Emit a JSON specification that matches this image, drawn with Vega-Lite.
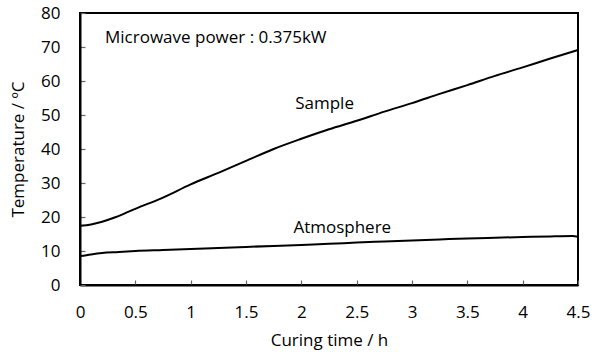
{
  "$schema": "https://vega.github.io/schema/vega-lite/v6.json",
  "width": 498,
  "height": 272,
  "autosize": "none",
  "padding": {"left": 80, "top": 13, "right": 23, "bottom": 71},
  "background": "white",
  "config": {
    "font": "Open Sans",
    "view": {"stroke": "black", "strokeWidth": 2},
    "axis": {
      "grid": false,
      "zindex": 1,
      "domainColor": "black",
      "domainWidth": 2,
      "tickColor": "#666",
      "tickSize": -5,
      "tickWidth": 1.2,
      "labelColor": "black",
      "labelFontSize": 17,
      "labelOverlap": false,
      "labelBound": false,
      "labelFlush": false,
      "titleColor": "black",
      "titleFontSize": 17,
      "titleFontWeight": "normal"
    }
  },
  "datasets": {
    "curves": [
      {"t": 0, "v": 17.4, "s": "Sample"},
      {"t": 0.1, "v": 17.8, "s": "Sample"},
      {"t": 0.2, "v": 18.6, "s": "Sample"},
      {"t": 0.3, "v": 19.7, "s": "Sample"},
      {"t": 0.4, "v": 21.0, "s": "Sample"},
      {"t": 0.5, "v": 22.4, "s": "Sample"},
      {"t": 0.75, "v": 25.7, "s": "Sample"},
      {"t": 1.0, "v": 29.6, "s": "Sample"},
      {"t": 1.25, "v": 33.0, "s": "Sample"},
      {"t": 1.5, "v": 36.5, "s": "Sample"},
      {"t": 1.75, "v": 40.0, "s": "Sample"},
      {"t": 2.0, "v": 43.0, "s": "Sample"},
      {"t": 2.25, "v": 45.8, "s": "Sample"},
      {"t": 2.5, "v": 48.3, "s": "Sample"},
      {"t": 2.75, "v": 51.0, "s": "Sample"},
      {"t": 3.0, "v": 53.5, "s": "Sample"},
      {"t": 3.25, "v": 56.2, "s": "Sample"},
      {"t": 3.5, "v": 58.8, "s": "Sample"},
      {"t": 3.75, "v": 61.5, "s": "Sample"},
      {"t": 4.0, "v": 64.0, "s": "Sample"},
      {"t": 4.25, "v": 66.6, "s": "Sample"},
      {"t": 4.5, "v": 69.1, "s": "Sample"},
      {"t": 0, "v": 8.5, "s": "Atmosphere"},
      {"t": 0.1, "v": 9.0, "s": "Atmosphere"},
      {"t": 0.2, "v": 9.4, "s": "Atmosphere"},
      {"t": 0.35, "v": 9.7, "s": "Atmosphere"},
      {"t": 0.5, "v": 10.0, "s": "Atmosphere"},
      {"t": 0.75, "v": 10.3, "s": "Atmosphere"},
      {"t": 1.0, "v": 10.6, "s": "Atmosphere"},
      {"t": 1.25, "v": 10.9, "s": "Atmosphere"},
      {"t": 1.5, "v": 11.2, "s": "Atmosphere"},
      {"t": 1.75, "v": 11.5, "s": "Atmosphere"},
      {"t": 2.0, "v": 11.8, "s": "Atmosphere"},
      {"t": 2.25, "v": 12.1, "s": "Atmosphere"},
      {"t": 2.5, "v": 12.5, "s": "Atmosphere"},
      {"t": 2.75, "v": 12.8, "s": "Atmosphere"},
      {"t": 3.0, "v": 13.1, "s": "Atmosphere"},
      {"t": 3.25, "v": 13.4, "s": "Atmosphere"},
      {"t": 3.5, "v": 13.7, "s": "Atmosphere"},
      {"t": 3.75, "v": 13.9, "s": "Atmosphere"},
      {"t": 4.0, "v": 14.1, "s": "Atmosphere"},
      {"t": 4.25, "v": 14.3, "s": "Atmosphere"},
      {"t": 4.45, "v": 14.4, "s": "Atmosphere"},
      {"t": 4.5, "v": 14.2, "s": "Atmosphere"}
    ],
    "labels": [
      {"t": 0.226, "v": 71.1, "text": "Microwave power : 0.375kW", "align": "left"},
      {"t": 2.21, "v": 51.7, "text": "Sample", "align": "center"},
      {"t": 2.37, "v": 15.4, "text": "Atmosphere", "align": "center"}
    ]
  },
  "encoding": {
    "x": {
      "field": "t", "type": "quantitative",
      "scale": {"domain": [0, 4.5], "nice": false, "zero": false},
      "axis": {"values": [0, 0.5, 1, 1.5, 2, 2.5, 3, 3.5, 4, 4.5], "format": "~g", "title": "Curing time / h", "labelPadding": 24, "titlePadding": 12}
    },
    "y": {
      "field": "v", "type": "quantitative",
      "scale": {"domain": [0, 80], "nice": false},
      "axis": {"values": [0, 10, 20, 30, 40, 50, 60, 70, 80], "title": "Temperature / ºC", "labelPadding": 25, "titlePadding": 13}
    }
  },
  "layer": [
    {
      "data": {"name": "curves"},
      "mark": {"type": "line", "color": "black", "strokeWidth": 2, "interpolate": "monotone"},
      "encoding": {
        "detail": {"field": "s"}
      }
    },
    {
      "data": {"name": "labels"},
      "transform": [{"filter": "datum.align == 'left'"}],
      "mark": {"type": "text", "align": "left", "baseline": "alphabetic", "fontSize": 17, "color": "black"},
      "encoding": {
        "text": {"field": "text"}
      }
    },
    {
      "data": {"name": "labels"},
      "transform": [{"filter": "datum.align == 'center'"}],
      "mark": {"type": "text", "align": "center", "baseline": "alphabetic", "fontSize": 17, "color": "black"},
      "encoding": {
        "text": {"field": "text"}
      }
    }
  ]
}
